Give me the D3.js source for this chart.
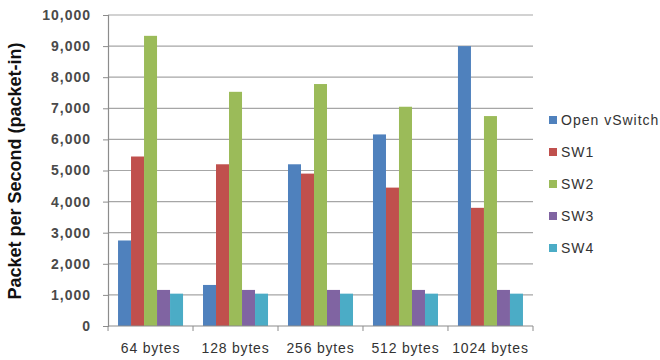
<!DOCTYPE html>
<html><head><meta charset="utf-8">
<script src="https://cdn.jsdelivr.net/npm/d3@7"></script>
<style>body{margin:0;background:#fff}svg{display:block}</style>
</head><body>
<svg id="c" width="660" height="360"></svg>
<script>
const categories = ["64 bytes","128 bytes","256 bytes","512 bytes","1024 bytes"];
const seriesNames = ["Open vSwitch","SW1","SW2","SW3","SW4"];
const colors = ["#4F81BD","#C0504D","#9BBB59","#8064A2","#4BACC6"];
const openVSwitch = [2750,1320,5200,6160,9000];
const sw1 = [5450,5200,4900,4450,3800];
const sw2 = [9330,7530,7780,7050,6750];
const sw3 = [1160,1160,1160,1160,1160];
const sw4 = [1040,1040,1040,1040,1040];
const yTicks = [0,1000,2000,3000,4000,5000,6000,7000,8000,9000,10000];
const seriesValues = [openVSwitch, sw1, sw2, sw3, sw4];

const svg = d3.select("#c");
const mLeft = 108, mRight = 533, mTop = 15, mBottom = 326;
const x0 = d3.scaleBand().domain(categories).range([mLeft,mRight]).paddingInner(0.235).paddingOuter(0.118);
const x1 = d3.scaleBand().domain(seriesNames).range([0,x0.bandwidth()]);
const y = d3.scaleLinear().domain([0,10000]).range([mBottom,mTop]);

// gridlines
svg.append("g").selectAll("line").data(yTicks.filter(d=>d>0)).join("line")
  .attr("x1",mLeft).attr("x2",mRight).attr("y1",d=>y(d)).attr("y2",d=>y(d))
  .attr("stroke","#a6a6a6").attr("stroke-width",1.2);

// bars
const g = svg.append("g");
categories.forEach((c,i)=>{
  seriesNames.forEach((s,j)=>{
    g.append("rect").attr("x",x0(c)+x1(s)).attr("width",x1.bandwidth())
      .attr("y",y(seriesValues[j][i])).attr("height",y(0)-y(seriesValues[j][i]))
      .attr("fill",colors[j]);
  });
});

// y axis
const yAxis = d3.axisLeft(y).tickValues(yTicks).tickFormat(d3.format(",")).tickSize(5).tickPadding(12);
const ya = svg.append("g").attr("transform",`translate(${mLeft},0)`).call(yAxis);
ya.select(".domain").attr("stroke","#8c8c8c").attr("stroke-width",1.2);
ya.selectAll(".tick line").attr("stroke","#8c8c8c");
ya.selectAll("text").attr("font-family","Liberation Sans, sans-serif").attr("font-size",14).attr("font-weight","bold")
  .attr("letter-spacing",1).attr("fill","#4a4a4a");

// x axis
const xa = svg.append("g").attr("transform",`translate(0,${mBottom})`);
xa.append("line").attr("x1",mLeft).attr("x2",mRight).attr("stroke","#8c8c8c").attr("stroke-width",1.2);
const bounds = categories.map(c=>x0(c)-x0.step()*x0.paddingInner()/2).concat([mRight]);
xa.selectAll(".tk").data(bounds).join("line").attr("class","tk")
  .attr("x1",d=>d).attr("x2",d=>d).attr("y1",0).attr("y2",5).attr("stroke","#8c8c8c");
xa.selectAll("text").data(categories).join("text")
  .attr("x",d=>x0(d)+x0.bandwidth()/2).attr("y",27).attr("text-anchor","middle")
  .attr("font-family","Liberation Sans, sans-serif").attr("font-size",14).attr("letter-spacing",0.8).attr("fill","#333")
  .text(d=>d);

// y title
svg.append("text").attr("transform","translate(21,171) rotate(-90)").attr("text-anchor","middle")
  .attr("font-family","Liberation Sans, sans-serif").attr("font-size",18).attr("font-weight","bold").attr("fill","#111")
  .text("Packet per Second (packet-in)");

// legend
const lg = svg.append("g");
seriesNames.forEach((s,j)=>{
  const ly = 120 + j*32;
  lg.append("rect").attr("x",549).attr("y",ly-4).attr("width",8).attr("height",8).attr("fill",colors[j]);
  lg.append("text").attr("x",561).attr("y",ly+5).attr("font-family","Liberation Sans, sans-serif")
    .attr("font-size",14).attr("letter-spacing",1).attr("fill","#333").text(s);
});
</script>
</body></html>
